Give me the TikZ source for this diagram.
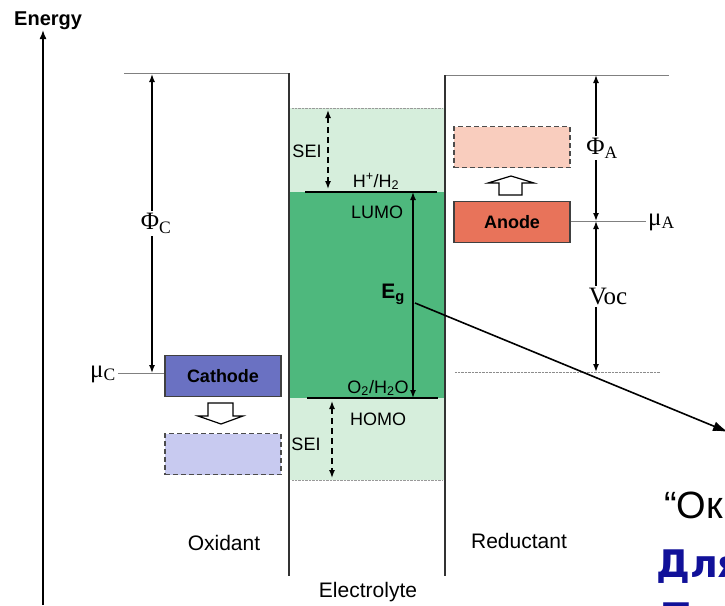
\documentclass[tikz,border=0pt]{standalone}
\usepackage{fontspec}
\setmainfont{Liberation Sans}
\newfontfamily\timesfont{Liberation Serif}
\newfontfamily\slidefont{DejaVu Sans}
\usetikzlibrary{arrows.meta,positioning}

\definecolor{seigreen}{RGB}{214,238,220}
\definecolor{gapgreen}{RGB}{78,184,125}
\definecolor{cathodeblue}{RGB}{106,113,194}
\definecolor{cathodepale}{RGB}{200,202,240}
\definecolor{anodered}{RGB}{232,115,90}
\definecolor{anodepale}{RGB}{249,205,190}
\definecolor{slideblue}{RGB}{17,17,153}

\begin{document}
\begin{tikzpicture}[
  x=1pt, y=-1pt,
  electrode/.style={draw=black!75, line width=1.2pt, minimum width=116pt, minimum height=41pt, inner sep=0pt, font=\fontsize{18}{20}\selectfont\bfseries},
  ghost/.style={electrode, dash pattern=on 5pt off 3pt, draw=black!70},
  level/.style={draw=black!50, line width=1pt},
  wall/.style={draw=black!80, line width=1.6pt},
  gap/.style={{Latex[length=8pt,width=6pt]}-{Latex[length=8pt,width=6pt]}, line width=1.4pt},
  sei/.style={gap, dash pattern=on 6pt off 4pt},
  lbl/.style={font=\fontsize{18}{20}\selectfont, inner sep=0pt, anchor=base},
  side/.style={font=\fontsize{21}{24}\selectfont, inner sep=0pt, anchor=base},
  sym/.style={font=\timesfont\fontsize{25}{28}\selectfont, inner sep=2pt},
  hollow/.style={draw=black, line width=1.2pt, fill=white}
]
  \useasboundingbox (0,0) rectangle (725,605);
  \clip (0,0) rectangle (725,605);

  % electrolyte bands
  \fill[seigreen] (290,108) rectangle (444,192);
  \fill[gapgreen] (290,192) rectangle (444,398);
  \fill[seigreen] (290,398) rectangle (444,480);
  \draw[densely dotted, black!40] (292,108) -- (443,108);
  \draw[densely dotted, black!40] (292,480) -- (443,480);

  % energy axis
  \coordinate (axisfoot) at (43,605);
  \coordinate (axistop) at (43,30);
  \draw[-{Latex[length=9pt,width=7pt]}, line width=1.6pt] (axisfoot) -- (axistop);
  \node[font=\fontsize{20}{22}\selectfont\bfseries, inner sep=0pt, anchor=base west] (energy) at (14,25) {Energy};

  % walls and vacuum levels
  \draw[level] (124,73) -- (289,73);
  \draw[wall] (289,73) -- (289,576);
  \draw[level] (445,75) -- (669,75);
  \draw[wall] (445,75) -- (445,576);

  % electrodes
  \node[electrode, fill=cathodeblue] (cathode) at (223,376) {Cathode};
  \node[ghost, fill=cathodepale] (cathodeghost) at (223,454) {};
  \node[electrode, fill=anodered] (anode) at (512,222) {Anode};
  \node[ghost, fill=anodepale] (anodeghost) at (512,147) {};
  \draw[hollow] (208,403) -- (233,403) -- (233,416) -- (243,416) -- (221,424) -- (198,416) -- (208,416) -- cycle;
  \draw[hollow] (499,195) -- (499,183) -- (488,183) -- (511,176) -- (534,183) -- (522,183) -- (522,195) -- cycle;

  % cathode side
  \coordinate (cathtop) at (152,74);
  \coordinate (muC) at (152,373);
  \node[sym, anchor=east] (muClabel) at (118,374) {μ\textsubscript{C}};
  \draw[level] (muClabel.east |- muC) -- (cathode.west |- muC);
  \draw[gap] (cathtop) -- node[sym, fill=white, xshift=4pt] (phiC) {Φ\textsubscript{C}} (muC);

  % anode side
  \coordinate (anodetop) at (596,75);
  \coordinate (muA) at (596,221);
  \coordinate (vocfloor) at (596,372);
  \node[sym, anchor=west] (muAlabel) at (646,222) {μ\textsubscript{A}};
  \draw[level] (anode.east |- muA) -- (muAlabel.west |- muA);
  \draw[gap] (anodetop) -- node[sym, fill=white, xshift=6pt] (phiA) {Φ\textsubscript{A}} (muA);
  \draw[gap] (muA) -- node[sym, fill=white, xshift=12pt] (voc) {Voc} (vocfloor);
  \draw[densely dotted, black!45] (455,372) -- (660,372);

  % electrolyte window
  \draw[line width=1.6pt] (305,192) -- (437,192);
  \draw[line width=1.6pt] (307,398) -- (438,398);
  \coordinate (egtop) at (413,192);
  \coordinate (egbot) at (413,398);
  \draw[gap] (egtop) -- (egbot);
  \coordinate (seitop) at (328,110);
  \coordinate (seitopend) at (328,189);
  \draw[sei] (seitop) -- (seitopend);
  \coordinate (seibot) at (332,401);
  \coordinate (seibotend) at (332,478);
  \draw[sei] (seibot) -- (seibotend);

  \node[lbl] (seiup) at (307,157) {SEI};
  \node[lbl] (hydrogen) at (376,187) {H\textsuperscript{+}/H\textsubscript{2}};
  \node[lbl] (lumo) at (377,218) {LUMO};
  \node[lbl, font=\fontsize{21}{24}\selectfont\bfseries] (eg) at (393,298) {E\textsubscript{g}};
  \node[lbl] (oxygen) at (378,393) {O\textsubscript{2}/H\textsubscript{2}O};
  \node[lbl] (homo) at (378,425) {HOMO};
  \node[lbl] (seidown) at (306,450) {SEI};

  \node[side] (oxidant) at (224,550) {Oxidant};
  \node[side] (electrolyte) at (368,597) {Electrolyte};
  \node[side] (reductant) at (519,548) {Reductant};

  % pointer to the slide text
  \coordinate (egtail) at (415,303);
  \coordinate (windowtip) at (728,432);
  \draw[-{Latex[length=15pt,width=10pt]}, line width=1.6pt] (egtail) -- (windowtip);

  \node[font=\fontsize{38}{40}\selectfont, inner sep=0pt, anchor=base west] (window) at (664,518) {“Окно стабильности”};
  \node[font=\slidefont\fontsize{38}{40}\selectfont\bfseries, text=slideblue, inner sep=0pt, anchor=base west] (forline) at (656,577) {Для};
  \node[font=\slidefont\fontsize{38}{40}\selectfont\bfseries, text=slideblue, inner sep=0pt, anchor=base west] (nextline) at (663,630) {Т};
\end{tikzpicture}
\end{document}
